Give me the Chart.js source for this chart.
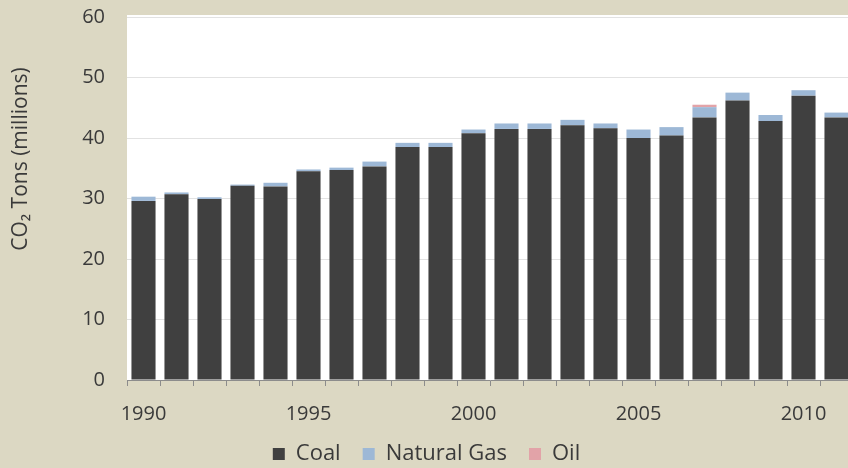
<!DOCTYPE html>
<html>
<head>
<meta charset="utf-8">
<script src="https://cdn.jsdelivr.net/npm/chart.js@4/dist/chart.umd.min.js"></script>
<style>
  html, body { margin: 0; padding: 0; background: #DCD8C3; overflow: hidden; }
  canvas { display: block; }
</style>
</head>
<body>
<canvas id="co2" width="853" height="468"></canvas>
<script>
/* CO2 emissions by fuel, 1990–2011 (million tons) */
const years = ['1990','1991','1992','1993','1994','1995','1996','1997','1998','1999','2000',
               '2001','2002','2003','2004','2005','2006','2007','2008','2009','2010','2011'];
const coal   = [29.6, 30.7, 29.9, 32.1, 32.0, 34.5, 34.7, 35.3, 38.5, 38.5, 40.8,
                41.5, 41.5, 42.1, 41.6, 40.0, 40.4, 43.4, 46.2, 42.8, 47.0, 43.4];
const natGas = [0.7, 0.3, 0.3, 0.2, 0.6, 0.3, 0.4, 0.8, 0.7, 0.7, 0.6,
                0.9, 0.9, 0.9, 0.8, 1.4, 1.4, 1.7, 1.3, 1.0, 0.9, 0.8];
const oil    = [0.0, 0.0, 0.0, 0.0, 0.0, 0.0, 0.0, 0.0, 0.0, 0.0, 0.0,
                0.0, 0.0, 0.0, 0.0, 0.0, 0.0, 0.4, 0.0, 0.0, 0.0, 0.0];
const yTicks = [0, 10, 20, 30, 40, 50, 60];

const FONT = "'Open Sans', Lato, sans-serif";
const TEXT = '#3A3A3A';
const LEGEND_PAD = 22;

// white plot area on the tan page, rotated axis title, legend nudged down
const plotBg = {
  id: 'plotBg',
  afterLayout(chart) {
    const lg = chart.legend;
    const h = lg.height;
    lg.top = 452 - LEGEND_PAD - 9;
    lg.bottom = lg.top + h;
  },
  beforeDraw(chart) {
    const { ctx, chartArea: a } = chart;
    ctx.save();
    ctx.fillStyle = '#FFFFFF';
    ctx.fillRect(a.left, a.top - 2, a.right - a.left, a.bottom - a.top + 2);
    ctx.restore();
  },
  afterDraw(chart) {
    const { ctx } = chart;
    ctx.save();
    ctx.translate(21, 159);
    ctx.rotate(-Math.PI / 2);
    ctx.fillStyle = TEXT;
    ctx.font = `21px ${FONT}`;
    ctx.textAlign = 'center';
    ctx.textBaseline = 'middle';
    ctx.fillText('CO\u2082 Tons (millions)', 0, 0);
    ctx.restore();
  }
};

new Chart(document.getElementById('co2'), {
  type: 'bar',
  data: {
    labels: years,
    datasets: [
      { label: 'Coal',        data: coal,   backgroundColor: '#404040' },
      { label: 'Natural Gas', data: natGas, backgroundColor: '#9DB8D6' },
      { label: 'Oil',         data: oil,    backgroundColor: '#E2A3A8' },
    ],
  },
  options: {
    responsive: false,
    animation: false,
    datasets: { bar: { categoryPercentage: 1, barPercentage: 0.73, borderWidth: 0 } },
    layout: { padding: { top: 17, right: 0, left: 0, bottom: -14 } },
    plugins: {
      tooltip: { enabled: false },
      legend: {
        position: 'bottom',
        labels: {
          color: TEXT,
          font: { family: FONT, size: 22 },
          boxWidth: 12,
          boxHeight: 12,
          padding: LEGEND_PAD,
        },
      },
    },
    scales: {
      x: {
        stacked: true,
        offset: true,
        grid: { display: true, drawOnChartArea: false, offset: true, color: '#8C8C8C', tickLength: 6 },
        border: { display: true, color: '#8C8C8C' },
        ticks: {
          autoSkip: false,
          maxRotation: 0,
          color: TEXT,
          font: { family: FONT, size: 20 },
          padding: 16,
          callback: (v, i) => (Number(years[i]) % 5 === 0 ? years[i] : ''),
        },
        afterFit: s => { s.height = 48; s.paddingLeft = 0; s.paddingRight = 0; },
      },
      y: {
        stacked: true,
        min: 0,
        max: 60,
        afterBuildTicks: s => { s.ticks = yTicks.map(v => ({ value: v })); },
        grid: { color: '#E2E2E2', drawTicks: false },
        border: { display: false },
        ticks: { color: TEXT, font: { family: FONT, size: 20 }, padding: 22 },
        afterFit: s => { s.width = 127; s.paddingTop = 0; s.paddingBottom = 0; },
      },
    },
  },
  plugins: [plotBg],
});
</script>
</body>
</html>
